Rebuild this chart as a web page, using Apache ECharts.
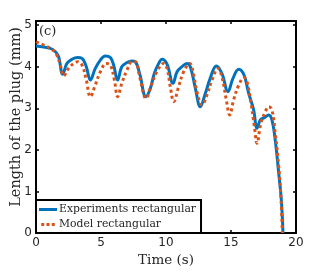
<!DOCTYPE html>
<html><head><meta charset="utf-8">
<script src="https://cdn.jsdelivr.net/npm/echarts@6/dist/echarts.min.js"></script>
<style>html,body{margin:0;padding:0;background:#fff}#c{width:327px;height:273px}</style>
</head><body><div id="c"></div>
<script>
const expT = [0,1.1,1.5,1.74,2.05,2.38,2.77,3.2,3.54,3.87,4.18,4.56,4.95,5.33,5.72,5.97,6.28,6.6,7.0,7.38,7.64,7.97,8.46,8.8,9.1,9.44,9.7,10.08,10.54,10.85,11.23,11.6,11.87,12.26,12.64,13.03,13.4,13.87,14.3,14.77,15.15,15.6,16.0,16.36,16.74,17.0,17.26,17.6,17.9,18.15,18.4,18.67,18.87,19.0];
const expL = [4.50,4.44,4.36,4.24,3.82,4.08,4.18,4.22,4.20,4.00,3.68,3.96,4.16,4.26,4.22,4.04,3.68,4.00,4.10,4.14,4.12,3.84,3.28,3.48,3.84,4.08,4.18,4.06,3.60,3.88,4.00,4.08,4.00,3.48,3.04,3.36,3.72,4.02,3.84,3.40,3.72,3.94,3.80,3.36,2.96,2.52,2.72,2.78,2.84,2.72,2.24,1.44,0.80,0];
const modT = [0,0.6,1.23,1.6,1.87,2.13,2.5,2.9,3.2,3.54,3.87,4.18,4.56,4.95,5.41,5.72,6.03,6.28,6.6,7.0,7.38,7.64,8.0,8.46,8.92,9.3,9.82,10.08,10.33,10.6,10.97,11.36,11.82,12.08,12.38,12.77,13.15,13.54,14.0,14.3,14.64,14.9,15.2,15.6,16.0,16.23,16.54,16.8,17.0,17.3,17.64,17.9,18.15,18.4,18.67,18.85,18.95];
const modL = [4.60,4.52,4.42,4.28,4.04,3.78,3.96,4.08,4.12,4.04,3.68,3.28,3.56,3.88,4.08,4.04,3.68,3.28,3.60,3.92,4.12,4.12,3.72,3.24,3.60,3.88,4.08,3.96,3.52,3.16,3.52,3.88,4.08,3.88,3.40,3.08,3.32,3.68,3.96,3.76,3.20,2.84,3.20,3.56,3.74,3.64,3.12,2.56,2.16,2.64,2.92,3.04,2.96,2.40,1.60,0.80,0];
const xTicks = [0,5,10,15,20];
const yTicks = [0,1,2,3,4,5];
const seriesNames = ['Experiments rectangular','Model rectangular'];
const yTitle = 'Length of the plug (mm)';

const chart = echarts.init(document.getElementById('c'), null, {renderer:'canvas'});
const serif = 'DejaVu Serif';
const sans = 'DejaVu Sans';
const tickCol = '#262626';
const xBase = {type:'value', min:xTicks[0], max:xTicks[xTicks.length-1], interval:5,
  splitLine:{show:false}, axisLine:{show:true, onZero:false, lineStyle:{color:'#000', width:2}},
  axisTick:{inside:true, length:3, lineStyle:{color:'#000', width:1.5}}};
const yBase = {type:'value', min:yTicks[0], max:5.1, interval:1,
  splitLine:{show:false}, axisLine:{show:true, onZero:false, lineStyle:{color:'#000', width:2}},
  axisTick:{inside:true, length:3, lineStyle:{color:'#000', width:1.5}}};
chart.setOption({
  animation:false,
  grid:{left:36, right:31, top:21, bottom:40, outerBoundsMode:'none', containLabel:false},
  xAxis:[
    Object.assign({}, xBase, {position:'bottom', name:'Time (s)', nameLocation:'middle', nameGap:15,
      nameTextStyle:{fontFamily:serif, fontSize:13.5, color:tickCol},
      axisLabel:{fontFamily:sans, fontSize:12, color:tickCol, margin:4}}),
    Object.assign({}, xBase, {position:'top', axisLabel:{show:false}})
  ],
  yAxis:[
    Object.assign({}, yBase, {position:'left',
      axisLabel:{fontFamily:sans, fontSize:12, color:tickCol, margin:4,
        formatter:v => Number.isInteger(v) ? String(v) : ''}}),
    Object.assign({}, yBase, {position:'right', axisLabel:{show:false}})
  ],
  legend:{orient:'vertical', left:36, top:200, backgroundColor:'#fff', borderColor:'#000', borderWidth:2,
    padding:[4,5,3,3], itemGap:4, itemWidth:18, itemHeight:3,
    textStyle:{fontFamily:serif, fontSize:10.8, color:tickCol, padding:[0,0,0,-3]},
    data:[{name:seriesNames[0], icon:'rect'},
          {name:seriesNames[1], icon:'path://M0,0h4v4h-4zM7,0h4v4h-4zM14,0h4v4h-4z'}]},
  graphic:[
    {type:'text', left:39, top:25, style:{text:'(c)', font:'13px "DejaVu Serif"', fill:tickCol}},
    {type:'text', x:16, y:117, rotation:Math.PI/2,
     style:{text:yTitle, font:'14.5px "DejaVu Serif"', fill:tickCol, align:'center', verticalAlign:'middle'}}
  ],
  series:[
    {name:seriesNames[0], type:'line', symbol:'none', smooth:0.4, z:2,
     data:expT.map((t,i)=>[t,expL[i]]), lineStyle:{color:'#0072BD', width:3}, itemStyle:{color:'#0072BD'}},
    {name:seriesNames[1], type:'line', symbol:'none', smooth:0.4, z:3,
     data:modT.map((t,i)=>[t,modL[i]]), lineStyle:{color:'#D95319', width:3, type:[3,3]}, itemStyle:{color:'#D95319'}}
  ]
});
</script></body></html>
